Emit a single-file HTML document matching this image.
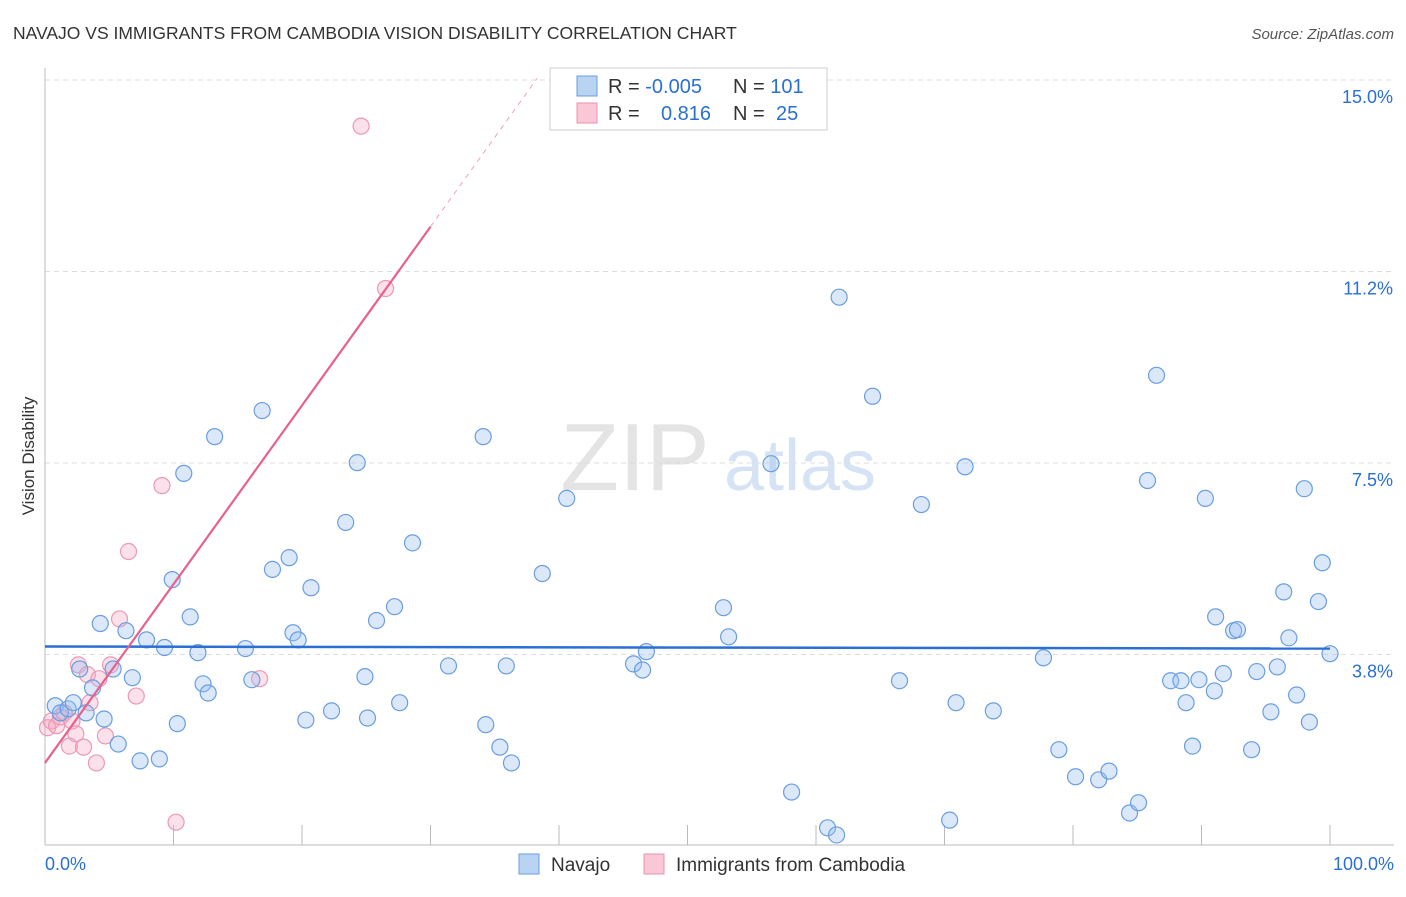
<!DOCTYPE html>
<html><head><meta charset="utf-8"><style>
body{margin:0;background:#fff;font-family:"Liberation Sans",sans-serif;}
svg text{font-family:"Liberation Sans",sans-serif;}
</style></head><body>
<svg id="chart" width="1406" height="892" xmlns="http://www.w3.org/2000/svg">
<text x="13" y="39" font-size="17.5" fill="#333">NAVAJO VS IMMIGRANTS FROM CAMBODIA VISION DISABILITY CORRELATION CHART</text>
<text x="1394" y="39" font-size="15" fill="#555" text-anchor="end" font-style="italic">Source: ZipAtlas.com</text>
<text transform="translate(34,456) rotate(-90)" font-size="17" fill="#333" text-anchor="middle">Vision Disability</text>
<g>
<text x="635" y="490" font-size="96" fill="#e4e4e4" font-family="Liberation Serif,serif" text-anchor="middle">ZIP</text>
<text x="800" y="490" font-size="72" fill="#d5e3f4" text-anchor="middle">atlas</text>
</g>
<g id="grid"></g>
<g id="axes"></g>
<g id="marks"></g>
<g>
<rect x="550" y="68" width="277" height="62" fill="#fff" stroke="#ccc"/>
<rect x="577" y="76" width="20" height="20" fill="#b9d3f3" stroke="#6a9ee0"/>
<rect x="577" y="103" width="20" height="20" fill="#f9c7d5" stroke="#e993ad"/>
<text x="608" y="93" font-size="20" fill="#333">R = <tspan fill="#2a6fd4">-0.005</tspan></text>
<text x="733" y="93" font-size="20" fill="#333">N = <tspan fill="#2a6fd4">101</tspan></text>
<text x="608" y="120" font-size="20" fill="#333">R = <tspan fill="#2a6fd4" x="661">0.816</tspan></text>
<text x="733" y="120" font-size="20" fill="#333">N = <tspan fill="#2a6fd4" x="776">25</tspan></text>
</g>
<g>
<rect x="519" y="854" width="20" height="20" fill="#b9d3f3" stroke="#6a9ee0"/>
<text x="551" y="871" font-size="19" fill="#333">Navajo</text>
<rect x="644" y="854" width="20" height="20" fill="#f9c7d5" stroke="#e993ad"/>
<text x="676" y="871" font-size="19" fill="#333">Immigrants from Cambodia</text>
</g>
</svg>
<script>
const navajoX=[0.8,1.2,1.8,2.2,2.7,3.2,3.7,4.3,4.6,5.3,5.7,6.3,6.8,7.4,7.9,8.9,9.3,9.9,10.3,10.8,11.3,11.9,12.3,12.7,13.2,15.6,16.1,16.9,17.7,19.0,19.3,19.7,20.3,20.7,22.3,23.4,24.3,24.9,25.1,25.8,27.2,27.6,28.6,31.4,34.1,34.3,35.4,35.9,36.3,38.7,40.6,45.8,46.5,46.8,52.8,53.2,56.5,58.1,60.9,61.6,61.8,64.4,66.5,68.2,70.4,70.9,71.6,73.8,77.7,78.9,80.2,82.0,82.8,84.4,85.1,85.8,86.5,87.6,88.4,88.8,89.3,89.8,90.3,91.0,91.1,91.7,92.5,92.8,93.9,94.3,95.4,95.9,96.4,96.8,97.4,98.0,98.4,99.1,99.4,100.0];
const navajoY=[3.08,2.94,3.02,3.14,3.80,2.94,3.43,4.69,2.82,3.80,2.33,4.55,3.63,2.0,4.37,2.04,4.22,5.55,2.73,7.63,4.82,4.12,3.51,3.33,8.35,4.2,3.59,8.86,5.75,5.98,4.51,4.37,2.8,5.39,2.98,6.67,7.84,3.65,2.84,4.75,5.02,3.14,6.27,3.86,8.35,2.71,2.27,3.86,1.96,5.67,7.14,3.9,3.78,4.14,5.0,4.43,7.82,1.39,0.69,0.55,11.08,9.14,3.57,7.02,0.84,3.14,7.76,2.98,4.02,2.22,1.69,1.63,1.80,0.98,1.18,7.49,9.55,3.57,3.57,3.14,2.29,3.59,7.14,3.37,4.82,3.71,4.55,4.57,2.22,3.75,2.96,3.84,5.31,4.41,3.29,7.33,2.76,5.12,5.88,4.1];
const cambX=[0.2,0.5,0.9,1.2,1.5,1.9,2.1,2.4,2.6,3.0,3.3,3.5,4.0,4.2,4.7,5.1,5.8,6.5,7.1,9.1,10.2,16.7,24.6,26.5];
const cambY=[2.65,2.78,2.69,2.86,2.94,2.29,2.78,2.53,3.88,2.27,3.69,3.14,1.96,3.61,2.49,3.88,4.78,6.1,3.27,7.39,0.8,3.61,14.43,11.25];
const yTicks=[15.0,11.25,7.5,3.75];
const yTickLabels=["15.0%","11.2%","7.5%","3.8%"];
const xTickLabels=["0.0%","100.0%"];
const navajoTrend=[4.24,4.20];
const cambTrend={intercept:1.96,slope:0.35};
const NS="http://www.w3.org/2000/svg";
const xs=v=>45+v*12.85;
const ys=v=>97+(15-v)*51.07;
function mk(tag,attrs,parent){const e=document.createElementNS(NS,tag);for(const k in attrs)e.setAttribute(k,attrs[k]);parent.appendChild(e);return e;}
const grid=document.getElementById('grid'),axes=document.getElementById('axes'),marks=document.getElementById('marks');
yTicks.forEach((t,i)=>{
 const l=mk('line',{x1:45,x2:1394,y1:ys(t)-17,y2:ys(t)-17,stroke:'#ddd','stroke-dasharray':'5,4'},grid);
 
 
 const tx=mk('text',{x:1393,y:ys(t)+6,'font-size':18,fill:'#2a6fd4','text-anchor':'end'},axes);
 tx.textContent=yTickLabels[i];
 
 
});
let a=mk('line',{x1:45,x2:45,y1:68,y2:845,stroke:'#bbb'},axes);


a=mk('line',{x1:45,x2:1394,y1:845,y2:845,stroke:'#bbb'},axes);


for(let v=10;v<=100;v+=10){
 const t=mk('line',{x1:xs(v),x2:xs(v),y1:825,y2:845,stroke:'#bbb'},axes);
 
 
}
[[0,'start',45],[100,'end',1394]].forEach((p,i)=>{
 const tx=mk('text',{x:p[2],y:870,'font-size':18,fill:'#2a6fd4','text-anchor':p[1]},axes);
 tx.textContent=xTickLabels[i];
 
 
});
cambX.forEach((x,i)=>{
 const c=mk('circle',{cx:xs(x),cy:ys(cambY[i]),r:8,fill:'rgba(246,170,196,0.35)',stroke:'#eb99b4','stroke-width':1.2},marks);
 
 
});
navajoX.forEach((x,i)=>{
 const c=mk('circle',{cx:xs(x),cy:ys(navajoY[i]),r:8,fill:'rgba(150,190,240,0.35)',stroke:'#6a9ee0','stroke-width':1.2},marks);
 
 
});
let tl=mk('line',{x1:xs(0),x2:xs(100),y1:ys(navajoTrend[0]),y2:ys(navajoTrend[1]),stroke:'#2a6fd4','stroke-width':2.5},marks);


const cx1=30,cx2=38.3;
tl=mk('line',{x1:xs(0),x2:xs(cx1),y1:ys(cambTrend.intercept),y2:ys(cambTrend.intercept+cambTrend.slope*cx1),stroke:'#e8608f','stroke-width':2.2},marks);


tl=mk('line',{x1:xs(cx1),x2:xs(cx2),y1:ys(cambTrend.intercept+cambTrend.slope*cx1),y2:ys(cambTrend.intercept+cambTrend.slope*cx2),stroke:'#f0a0bb','stroke-width':1,'stroke-dasharray':'5,5'},marks);


</script>
</body></html>
